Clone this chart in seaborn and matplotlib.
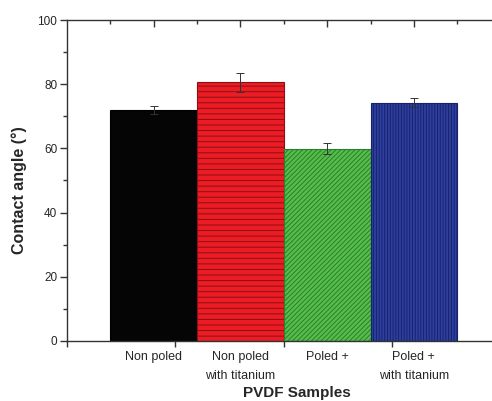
import matplotlib

matplotlib.use("Agg")

import matplotlib.pyplot as plt
import pandas as pd
import seaborn as sns

# values
samples = ["Non poled", "Non poled\nwith titanium", "Poled +", "Poled +\nwith titanium"]
contact_angle = [72.0, 80.6, 59.9, 74.2]
angle_err = [1.2, 3.0, 1.8, 1.4]
bar_colors = ["#050505", "#ec1c24", "#55bd4a", "#2e3f9f"]
edge_colors = ["#000000", "#8a1015", "#2a7f2c", "#18226a"]
hatches = ["", "---", "///////", "||||||"]
y_ticks = [0, 20, 40, 60, 80, 100]

sns.set_theme(style="ticks")
plt.rcParams["font.family"] = ["Liberation Sans", "DejaVu Sans"]
plt.rcParams["hatch.linewidth"] = 0.7

df = pd.DataFrame({"sample": samples, "angle": contact_angle})

fig = plt.figure(figsize=(4.92, 4.01), dpi=100)
ax = fig.add_axes([0.136, 0.150, 0.864, 0.800])

sns.barplot(
    data=df,
    x="sample",
    y="angle",
    hue="sample",
    palette=bar_colors,
    width=1.0,
    legend=False,
    saturation=1.0,
    ax=ax,
)
for patch, hatch, ec in zip(ax.patches, hatches, edge_colors):
    patch.set_hatch(hatch)
    patch.set_edgecolor(ec)
    patch.set_linewidth(0.8)

ax.errorbar(
    range(len(samples)),
    contact_angle,
    yerr=angle_err,
    fmt="none",
    ecolor="#333333",
    elinewidth=0.7,
    capsize=3,
    capthick=0.7,
)

# bottom axis: unlabeled ticks every 1.25, labels under bar centres
ax.set_xticks([-1.0, 0.25, 1.5, 2.75, 4.0])
ax.set_xticklabels([])
ax.set_xticks(range(len(samples)), minor=True)
ax.set_xticklabels(samples, minor=True, fontsize=9, linespacing=1.8)
ax.tick_params(axis="x", which="major", length=4, width=1, color="#333333", direction="out")
ax.tick_params(axis="x", which="minor", length=0, pad=7)

ax.set_yticks(y_ticks)
ax.set_yticks(range(10, 100, 20), minor=True)
ax.tick_params(axis="y", which="major", length=5, width=1, color="#333333", labelsize=8.5, pad=2)
ax.tick_params(axis="y", which="minor", length=3, width=1, color="#333333")

# set limits after the ticks, set_xticks widens the view otherwise
ax.set_xlim(-1.0, 3.9)
ax.set_ylim(0, 100)

top = ax.secondary_xaxis("top")
top.set_xticks(range(len(samples)))
top.set_xticklabels([])
top.set_xticks([i - 0.5 for i in range(len(samples) + 1)], minor=True)
top.tick_params(axis="x", which="major", direction="in", length=5, width=1, color="#333333")
top.tick_params(axis="x", which="minor", direction="in", length=3, width=1, color="#333333")
top.spines["top"].set_color("#333333")
top.spines["top"].set_linewidth(1.0)

ax.spines["right"].set_visible(False)
ax.spines["top"].set_visible(False)
for side in ("left", "bottom"):
    ax.spines[side].set_color("#333333")
    ax.spines[side].set_linewidth(1.0)

ax.set_xlabel("PVDF Samples", fontsize=11, fontweight="bold")
ax.xaxis.set_label_coords(0.541, -0.142)
ax.set_ylabel("Contact angle (°)", fontsize=11.5, fontweight="bold")
ax.yaxis.set_label_coords(-0.095, 0.47)

fig.savefig("out.png", dpi=100)
plt.close(fig)
